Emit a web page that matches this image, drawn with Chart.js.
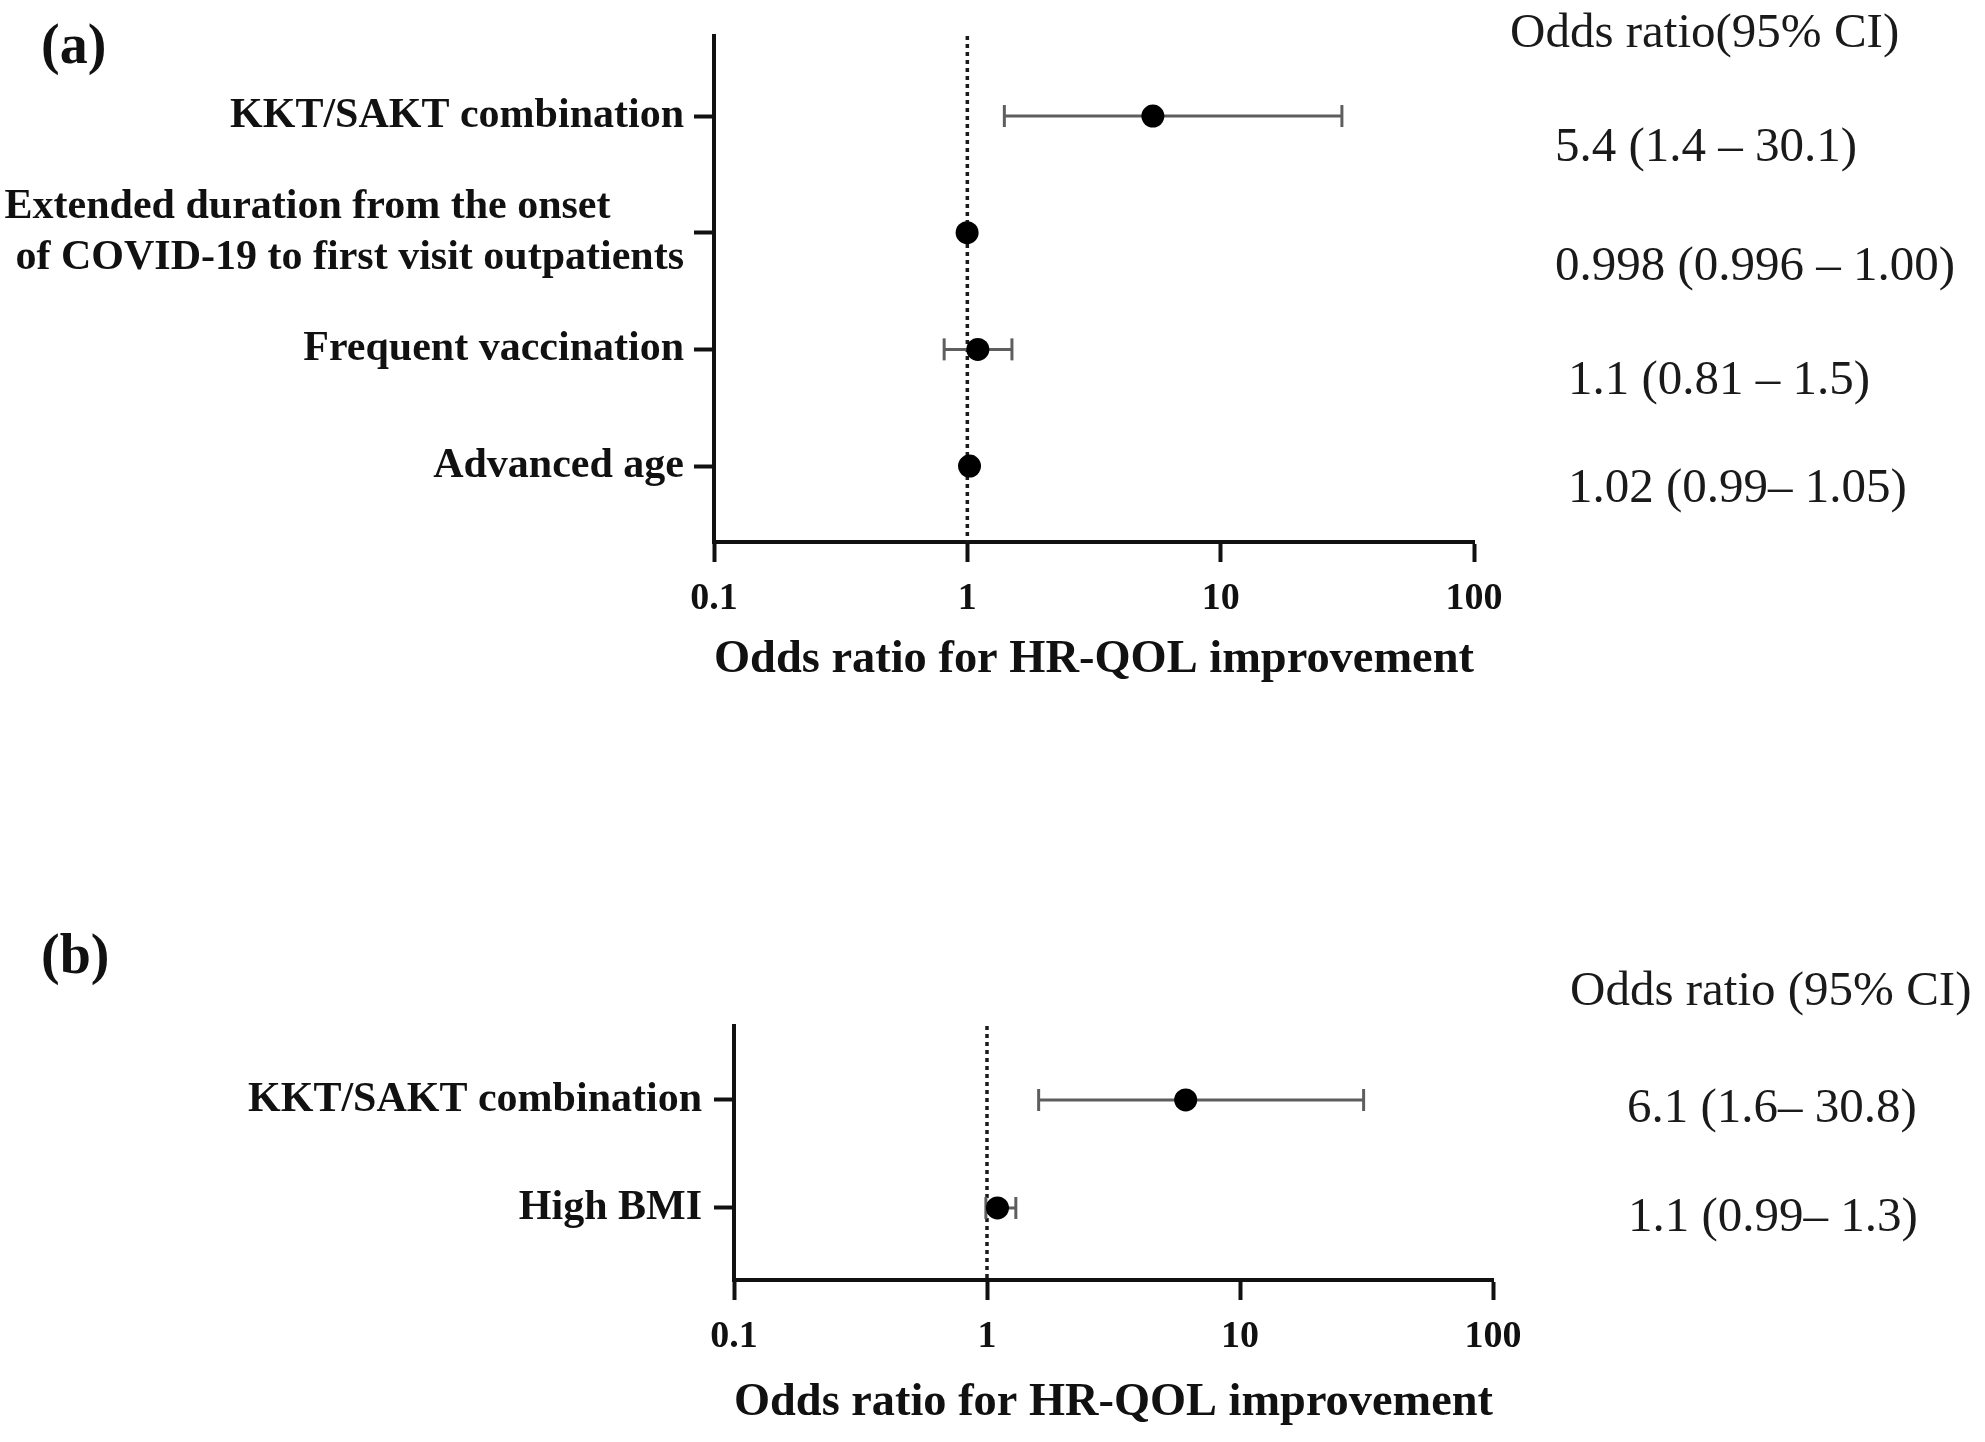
<!DOCTYPE html>
<html><head><meta charset="utf-8">
<script src="https://cdn.jsdelivr.net/npm/chart.js@4.4.0/dist/chart.umd.min.js"></script>
<style>
html,body{margin:0;padding:0;background:#fff;width:1985px;height:1442px;overflow:hidden}
canvas{position:absolute;left:0}
#ca{top:0px}
#cb{top:721px}
</style></head><body>
<canvas id="ca" width="1985" height="721"></canvas>
<canvas id="cb" width="1985" height="721"></canvas>
<script>
// ---------- data ----------
const categoriesA = [
  "KKT/SAKT combination",
  ["Extended duration from the onset", " of COVID-19 to first visit outpatients"],
  "Frequent vaccination",
  "Advanced age"
];
const oddsA = [5.4, 0.998, 1.1, 1.02];
const lowerA = [1.4, 0.996, 0.81, 0.99];
const upperA = [30.1, 1.00, 1.5, 1.05];
const ciTextA = ["5.4 (1.4 \u2013 30.1)", "0.998 (0.996 \u2013 1.00)", "1.1 (0.81 \u2013 1.5)", "1.02 (0.99\u2013 1.05)"];
const headerA = "Odds ratio(95% CI)";
const panelA = "(a)";

const categoriesB = ["KKT/SAKT combination", "High BMI"];
const oddsB = [6.1, 1.1];
const lowerB = [1.6, 0.99];
const upperB = [30.8, 1.3];
const ciTextB = ["6.1 (1.6\u2013 30.8)", "1.1 (0.99\u2013 1.3)"];
const headerB = "Odds ratio (95% CI)";
const panelB = "(b)";

const xTickValues = [0.1, 1, 10, 100];
const xTickLabels = ["0.1", "1", "10", "100"];
const xTitle = "Odds ratio for HR-QOL improvement";
const referenceOR = 1;

// ---------- drawing ----------
const SERIF = '"Liberation Serif", "Times New Roman", Times, serif';
const INK = '#111111';
const ERR = '#5e5e5e';

function forest(id, o) {
  const rows = o.cats.map((_, i) => i);
  const errSets = rows.map(i => ({
    data: [{x: o.lo[i], y: i}, {x: o.hi[i], y: i}],
    showLine: true, borderColor: ERR, borderWidth: 3,
    pointStyle: 'line', pointRotation: 90, pointRadius: 11, pointHoverRadius: 11,
    pointBorderColor: ERR, pointBorderWidth: 3, pointBackgroundColor: ERR,
    order: 2
  }));
  const refSet = {
    data: [{x: referenceOR, y: o.yMin}, {x: referenceOR, y: o.yMax}],
    showLine: true, borderColor: '#1a1a1a', borderWidth: 3.5, borderDash: [4, 4],
    pointRadius: 0, pointHoverRadius: 0, order: 3
  };
  const ptSet = {
    data: rows.map(i => ({x: o.or[i], y: i})),
    showLine: false, pointStyle: 'circle', pointRadius: 11.5, pointHoverRadius: 11.5,
    pointBackgroundColor: '#000', pointBorderColor: '#000', pointBorderWidth: 0,
    order: 1
  };
  const labelFor = (i) => {
    const c = o.cats[i];
    if (Array.isArray(c)) return [c[0] + '\u00A0'.repeat(7), c[1]];
    return c;
  };
  const annot = {
    id: 'annot_' + id,
    afterDraw(chart) {
      const ctx = chart.ctx, ys = chart.scales.y;
      ctx.save();
      ctx.textBaseline = 'middle';
      ctx.textAlign = 'left';
      ctx.fillStyle = INK;
      ctx.font = 'bold 56px ' + SERIF;
      ctx.fillText(o.panel, o.panelX, o.panelY);
      ctx.fillStyle = '#1a1a1a';
      ctx.font = '49px ' + SERIF;
      ctx.fillText(o.header, o.headX, o.headY);
      o.ci.forEach((t, i) => ctx.fillText(t, o.ciX[i], ys.getPixelForValue(i) + o.ciDy[i]));
      ctx.restore();
    }
  };
  return new Chart(document.getElementById(id), {
    type: 'scatter',
    data: {datasets: [ptSet, ...errSets, refSet]},
    plugins: [annot],
    options: {
      responsive: false, animation: false, devicePixelRatio: 1,
      layout: {padding: {left: 0, right: o.padR, top: o.padT, bottom: o.padB}},
      plugins: {legend: {display: false}, tooltip: {enabled: false}},
      scales: {
        x: {
          type: 'logarithmic', min: xTickValues[0], max: xTickValues[xTickValues.length - 1],
          afterBuildTicks: s => { s.ticks = xTickValues.map(v => ({value: v, major: true})); },
          ticks: {callback: (v, i) => xTickLabels[i], font: {family: SERIF, size: 38, weight: 'bold', lineHeight: 1.2},
                  color: INK, padding: 14, maxRotation: 0, autoSkip: false},
          grid: {display: true, drawOnChartArea: false, drawTicks: true, tickLength: 20, tickWidth: 4, tickColor: INK},
          border: {display: true, color: INK, width: 4},
          title: {display: true, text: xTitle, color: INK, padding: {top: 0, bottom: 0},
                  font: {family: SERIF, size: 47, weight: 'bold', lineHeight: 1.2}},
          afterFit: s => { s.height = o.xH; }
        },
        y: {
          type: 'linear', reverse: true, min: o.yMin, max: o.yMax,
          afterBuildTicks: s => { s.ticks = rows.map(v => ({value: v})); },
          ticks: {callback: (v, i) => labelFor(i), font: {family: SERIF, size: 42, weight: 'bold', lineHeight: 1.2},
                  color: INK, padding: o.yPad, autoSkip: false},
          grid: {display: true, drawOnChartArea: false, drawTicks: true, tickLength: 20, tickWidth: 4, tickColor: INK},
          border: {display: true, color: INK, width: 4},
          afterFit: s => { s.width = o.yW; }
        }
      }
    }
  });
}

forest('ca', {
  cats: categoriesA, or: oddsA, lo: lowerA, hi: upperA, ci: ciTextA,
  header: headerA, panel: panelA,
  yMin: -0.686, yMax: categoriesA.length - 1 + 0.651,
  yW: 714, padR: 1985 - 1474, padT: 36, padB: 33, xH: 146, yPad: 10,
  panelX: 41, panelY: 49, headX: 1510, headY: 34,
  ciX: [1555, 1555, 1568, 1568], ciDy: [32, 34, 32, 23]
});
forest('cb', {
  cats: categoriesB, or: oddsB, lo: lowerB, hi: upperB, ci: ciTextB,
  header: headerB, panel: panelB,
  yMin: -0.685, yMax: categoriesB.length - 1 + 0.667,
  yW: 734, padR: 1985 - 1493, padT: 305, padB: 11, xH: 151, yPad: 12,
  panelX: 41, panelY: 238, headX: 1570, headY: 271,
  ciX: [1627, 1628], ciDy: [9, 10]
});
</script>
</body></html>
